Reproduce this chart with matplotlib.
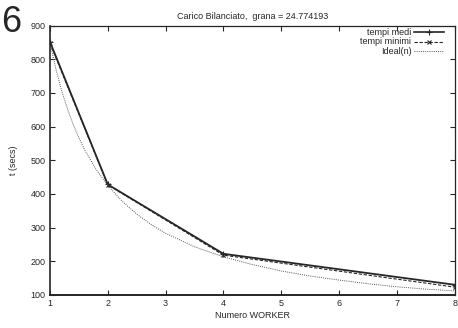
import matplotlib
matplotlib.use('Agg')
import matplotlib.pyplot as plt

plt.rcParams['font.family'] = ['Liberation Sans', 'DejaVu Sans']

# data
workers = [1, 2, 4, 8]
tempi_medi = [852, 428, 222, 130]
tempi_minimi = [848, 427, 218, 123]
ideal_n = [1, 1.1, 1.2, 1.3, 1.4, 1.5, 1.6, 1.8, 2, 2.25, 2.5, 2.75, 3, 3.5,
           4, 4.5, 5, 5.5, 6, 6.5, 7, 7.5, 8]
ideal_t = [850, 773, 708, 654, 607, 567, 531, 472, 425, 378, 340, 309, 283, 243,
           213, 190, 171, 156, 144, 133, 124, 117, 112]
xticks = [1, 2, 3, 4, 5, 6, 7, 8]
yticks = [100, 200, 300, 400, 500, 600, 700, 800, 900]

ink = '#262626'

fig = plt.figure(figsize=(4.58, 3.28), dpi=100)
ax = fig.add_axes([0.109, 0.101, 0.884, 0.821])

ax.plot(workers, tempi_medi, color=ink, lw=1.3, marker='+', ms=4, mew=0.8)
ax.plot(workers, tempi_minimi, color=ink, lw=0.8, ls=(0, (3, 1.5)), marker='x', ms=3, mew=0.8)
ax.plot(ideal_n, ideal_t, color='#555555', lw=0.7, ls=(0, (1, 1.2)))

ax.set_xlim(1, 8)
ax.set_ylim(100, 900)
ax.set_xticks(xticks)
ax.set_yticks(yticks)
ax.tick_params(direction='in', length=3.5, width=0.8, labelsize=6.5, colors=ink,
               top=True, right=True, pad=3)
for s in ax.spines.values():
    s.set_linewidth(0.9)
    s.set_color(ink)
ax.spines['bottom'].set_linewidth(1.4)
ax.spines['left'].set_linewidth(1.2)

ax.set_title('Carico Bilanciato,  grana = 24.774193', fontsize=6.5, color=ink, pad=5)
ax.set_xlabel('Numero WORKER', fontsize=6.5, color=ink, labelpad=2)
ax.set_ylabel('t (secs)', fontsize=6.5, color=ink, labelpad=9)

# gnuplot style key, labels right aligned with line samples on the right
key = [('tempi medi', dict(color=ink, lw=1.2, marker='+', ms=4, mew=0.8)),
       ('tempi minimi', dict(color=ink, lw=0.8, ls=(0, (3, 1.5)), marker='x', ms=3, mew=0.8)),
       ('Ideal(n)', dict(color='#555555', lw=0.7, ls=(0, (1, 1.2))))]
for i, (label, style) in enumerate(key):
    yy = 0.975 - i * 0.035
    ax.text(0.893, yy, label, transform=ax.transAxes, ha='right', va='center',
            fontsize=6.5, color=ink)
    ax.plot([0.90, 0.973], [yy, yy], transform=ax.transAxes, clip_on=False,
            markevery=[], **style)
    if 'marker' in style:
        ax.plot([0.9365], [yy], transform=ax.transAxes, clip_on=False,
                color=style['color'], marker=style['marker'], ms=style['ms'],
                mew=style['mew'], ls='none')

fig.text(0.002, 0.985, '6', fontsize=26, color=ink, ha='left', va='top')

fig.savefig('out.png', dpi=100)
plt.close(fig)
